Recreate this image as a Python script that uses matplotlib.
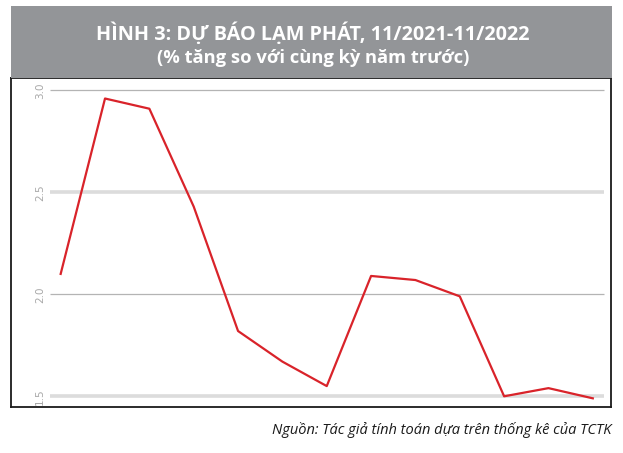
"""
Inflation forecast chart, 11/2021-11/2022.
"""

import numpy as np
import matplotlib.pyplot as plt
from matplotlib.patches import Rectangle

# Monthly forecast values (% y/y), 11/2021 .. 11/2022
months = ["11/2021", "12/2021", "1/2022", "2/2022", "3/2022", "4/2022", "5/2022",
          "6/2022", "7/2022", "8/2022", "9/2022", "10/2022", "11/2022"]
inflation = [2.10, 2.96, 2.91, 2.43, 1.82, 1.67, 1.55,
             2.09, 2.07, 1.99, 1.50, 1.54, 1.49]

y_ticks = [1.5, 2.0, 2.5, 3.0]
y_tick_labels = ["1.5", "2.0", "2.5", "3.0"]

title = "HÌNH 3: DỰ BÁO LẠM PHÁT, 11/2021-11/2022"
subtitle = "(% tăng so với cùng kỳ năm trước)"
source = "Nguồn: Tác giả tính toán dựa trên thống kê của TCTK"

W, H = 623, 453
fig = plt.figure(figsize=(W / 100, H / 100), dpi=100)

# Grey header band
fig.patches.append(Rectangle((11 / W, 1 - 77.5 / H), 601 / W, 71.5 / H,
                             transform=fig.transFigure, facecolor="#939598",
                             edgecolor="none", zorder=0))
fig.text(313 / W, 1 - 34 / H, title, ha="center", va="center", color="white",
         fontsize=14.3, fontweight="bold", family=["Open Sans", "DejaVu Sans"])
fig.text(313 / W, 1 - 58 / H, subtitle, ha="center", va="center", color="white",
         fontsize=13.2, fontweight="bold", family=["Open Sans", "DejaVu Sans"])

# Plot box
ax = fig.add_axes([11 / W, 1 - 407 / H, 600 / W, 329.5 / H])
x = np.arange(len(months))
ax.set_xlim(-1.12, 12.41)
ax.set_ylim(1.4475, 3.063)

for i, (tick, label) in enumerate(zip(y_ticks, y_tick_labels)):
    thick = i % 2 == 0
    ax.hlines(tick, -0.241, 12.25,
              color="#dcdcdc" if thick else "#b4b4b4",
              linewidth=2.6 if thick else 0.9, zorder=1)
    ax.text(-0.467, tick, label, rotation=90, ha="center", va="center",
            fontsize=7.5, color="#a8a8a8")

ax.plot(x, inflation, color="#d9232a", linewidth=1.6, zorder=3)

ax.set_xticks([])
ax.set_yticks([])
for spine in ax.spines.values():
    spine.set_color("#1a1a1a")
    spine.set_linewidth(1.3)

fig.text(612 / W, 1 - 430 / H, source, ha="right", va="center", color="#1a1a1a",
         fontsize=10.5, style="italic",
         family=["Liberation Sans Narrow", "Open Sans", "DejaVu Sans"])

fig.savefig("out.png", dpi=100)
plt.close(fig)
